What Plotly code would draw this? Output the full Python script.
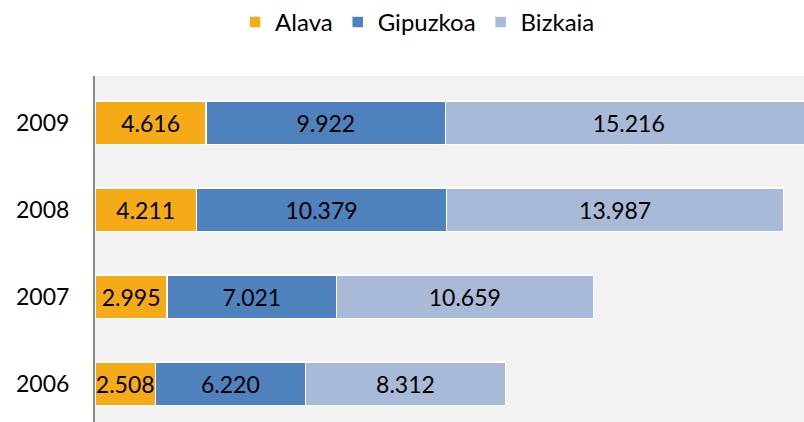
import plotly.graph_objects as go

years = ['2006', '2007', '2008', '2009']
alava = [2508, 2995, 4211, 4616]
gipuzkoa = [6220, 7021, 10379, 9922]
bizkaia = [8312, 10659, 13987, 15216]

colors = {
    'Alava': '#F5AA17',
    'Gipuzkoa': '#4F81BD',
    'Bizkaia': '#A9B9D8',
}


def fmt(v):
    return f"{v:,}".replace(",", ".")


pos = list(range(len(years)))
fig = go.Figure()

for name, vals in [('Alava', alava), ('Gipuzkoa', gipuzkoa), ('Bizkaia', bizkaia)]:
    fig.add_trace(go.Bar(
        y=pos,
        x=vals,
        name=name,
        orientation='h',
        width=0.5,
        marker=dict(color=colors[name], line=dict(color='white', width=1.5)),
        text=[fmt(v) for v in vals],
        textposition='inside',
        insidetextanchor='middle',
        constraintext='none',
        textfont=dict(color='black', size=23, family='Lato'),
    ))

fig.update_layout(
    barmode='stack',
    width=804,
    height=422,
    margin=dict(l=95, r=0, t=75, b=0),
    paper_bgcolor='white',
    plot_bgcolor='#F2F2F2',
    font=dict(family='Lato', size=23, color='black'),
    showlegend=True,
    legend=dict(
        orientation='h',
        x=0.455,
        xanchor='center',
        y=1.155,
        yanchor='middle',
        font=dict(size=24),
        itemwidth=30,
        traceorder='normal',
    ),
)

# the 2009 bar runs slightly past the right edge in the original
fig.update_xaxes(
    range=[0, 29420],
    showgrid=False,
    showticklabels=False,
    zeroline=False,
    showline=False,
)

fig.update_yaxes(
    tickmode='array',
    tickvals=pos,
    ticktext=years,
    range=[-0.44, 3.54],
    showgrid=False,
    zeroline=False,
    showline=True,
    linecolor='#888888',
    linewidth=2,
    ticks='',
    ticklabelstandoff=19,
    tickfont=dict(size=23),
)

fig.write_html(
    "out.html",
    config={'displayModeBar': False},
    post_script="document.body.style.margin='0';",
)
